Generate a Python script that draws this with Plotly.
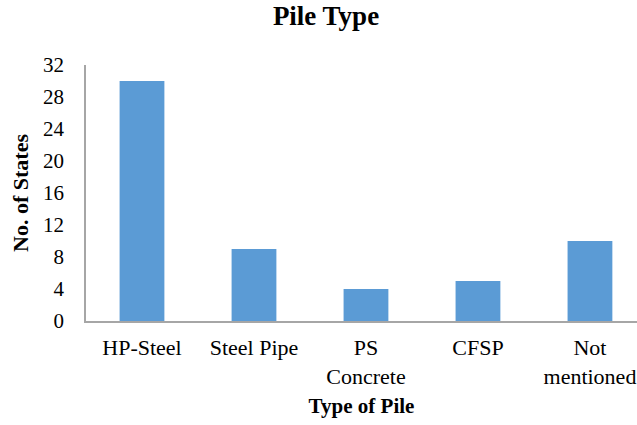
import plotly.graph_objects as go

# Pile types and number of states using each
pile_types = ["HP-Steel", "Steel Pipe", "PS<br>Concrete", "CFSP", "Not<br>mentioned"]
state_counts = [30, 9, 4, 5, 10]
y_ticks = [0, 4, 8, 12, 16, 20, 24, 28, 32]

SERIF = "Liberation Serif"
AXIS_GREY = "#A6A6A6"

fig = go.Figure(
    go.Bar(
        x=pile_types,
        y=state_counts,
        width=0.4,
        marker=dict(color="#5B9BD5", line=dict(width=0)),
    )
)

fig.update_layout(
    width=637,
    height=425,
    margin=dict(l=86, r=0, t=65, b=104),
    paper_bgcolor="white",
    plot_bgcolor="white",
    showlegend=False,
    font=dict(family=SERIF, size=21, color="black"),
    title=dict(
        text="<b>Pile Type</b>",
        font=dict(family=SERIF, size=27, color="black"),
        xref="container",
        x=326 / 637,
        xanchor="center",
        yref="container",
        y=1 - 6 / 425,
        yanchor="top",
    ),
)

fig.update_xaxes(
    type="category",
    range=[-0.5, 4.42],
    showline=True,
    linecolor=AXIS_GREY,
    linewidth=1.5,
    showgrid=False,
    ticks="",
    ticklabelstandoff=6,
    tickfont=dict(family=SERIF, size=22, color="black"),
    title=dict(
        text="<b>Type of Pile</b>",
        font=dict(family=SERIF, size=21, color="black"),
        standoff=11,
    ),
)

fig.update_yaxes(
    range=[0, 32],
    tickvals=y_ticks,
    showline=True,
    linecolor=AXIS_GREY,
    linewidth=1.5,
    showgrid=False,
    zeroline=False,
    ticks="",
    ticklabelstandoff=16,
    tickfont=dict(family=SERIF, size=21, color="black"),
    title=dict(
        text="<b>No. of States</b>",
        font=dict(family=SERIF, size=22, color="black"),
        standoff=8,
    ),
)

fig.write_html("out.html")
